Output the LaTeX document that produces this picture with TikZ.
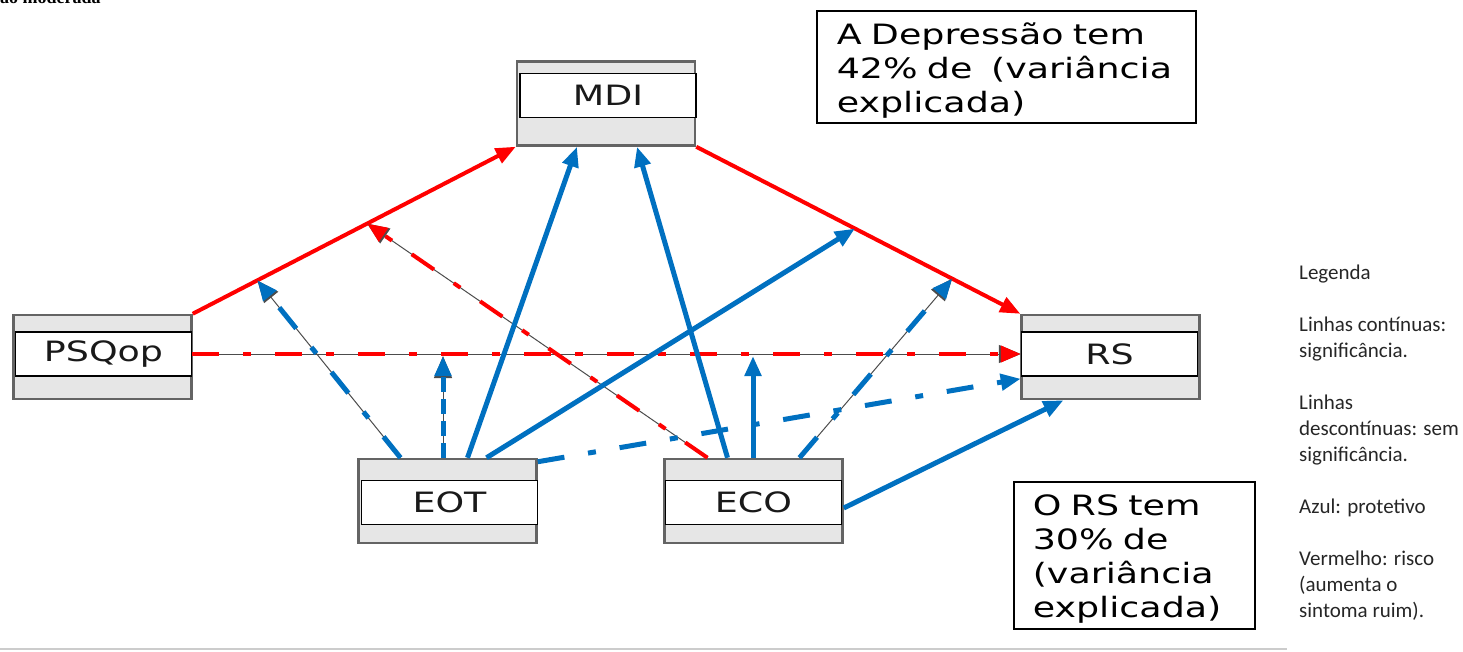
\documentclass[tikz,border=0pt]{standalone}
\usepackage{fontspec}
\setmainfont{Carlito}
\newfontfamily\boxfont[FakeStretch=1.3]{DejaVu Sans}
\newfontfamily\capfont{Liberation Serif}
\usetikzlibrary{arrows.meta,calc}
\definecolor{azul}{RGB}{0,112,192}
\definecolor{verm}{RGB}{255,0,0}
\definecolor{cinza}{RGB}{230,230,230}
\definecolor{borda}{RGB}{100,100,100}

\begin{document}
\begin{tikzpicture}[x=1pt, y=-1pt,
  varbox/.style={draw=borda, line width=2.5pt, fill=cinza, minimum width=178pt, minimum height=84pt, inner sep=0pt},
  varlabel/.style={draw=black, line width=1.5pt, fill=white, minimum width=176pt, minimum height=44pt, inner sep=0pt, text=black!90, font=\boxfont\fontsize{28}{34}\selectfont},
  notebox/.style={draw=black, line width=1.5pt, align=left, inner ysep=0pt, font=\boxfont\fontsize{28}{34}\selectfont},
  headtip/.style={-{Triangle[length=20pt,width=16pt]}},
  sigred/.style={headtip, draw=verm, line width=4pt},
  sigblue/.style={headtip, draw=azul, line width=5pt},
  guide/.style={-{Triangle[length=22pt,width=18pt]}, draw=black!70, line width=1pt},
  nsred/.style={headtip, draw=verm, line width=4pt, dash pattern=on 27pt off 24pt on 8pt off 24pt},
  nsblue/.style={headtip, draw=azul, line width=5pt, dash pattern=on 27pt off 24pt on 8pt off 24pt},
  nsbluedash/.style={headtip, draw=azul, line width=5pt, dash pattern=on 15pt off 7pt}]

\useasboundingbox (0,0) rectangle (1463,651);

% cut caption at the top
\node[anchor=base west, inner sep=0pt, font=\capfont\bfseries\fontsize{18}{20}\selectfont] (topcap) at (0,3) {ão moderada};

% variables
\foreach \nm/\x/\y/\dx/\dy/\txt in {mdi/606/103.5/2/-8/MDI, psq/102.5/357/1/-3/PSQop, eot/447.5/501/2/1.5/EOT, eco/753.5/501/0/1.5/ECO, rs/1110.5/357/-1/-3/RS} {
  \node[varbox] (\nm) at (\x,\y) {};
  \node[varlabel] (\nm-l) at (\x+\dx,\y+\dy) {\txt};
}

% explained variance
\node[notebox, anchor=north west, text width=339pt, inner xsep=20pt, minimum height=112pt] (dep) at (816,10)
  {\rule{0pt}{30pt}A Depressão tem\\42\%~de~~(variância\\explicada)};
\node[notebox, anchor=north west, text width=203pt, inner xsep=19pt, minimum height=147pt] (rsvar) at (1013,481)
  {\rule{0pt}{29pt}O RS tem\\30\% de\\(variância\\explicada)};

% legend
\node[anchor=north west, align=left, inner sep=0pt, text=black!85, font=\fontsize{21}{26}\selectfont] (leg) at (1299,265)
  {Legenda\\[26pt]Linhas contínuas:\\significância.\\[26pt]Linhas\\descontínuas: sem\\significância.\\[26pt]Azul: protetivo\\[26pt]Vermelho: risco\\(aumenta o\\sintoma ruim).};

% main paths
\draw[sigred] (psq.north east) -- (mdi.south west);
\draw[sigred] (mdi.south east) -- (rs.north west);

% points on the paths (moderation)
\coordinate (m1) at ($(psq.north east)!0.2!(mdi.south west)$);
\coordinate (m2) at ($(psq.north east)!0.54!(mdi.south west)$);
\coordinate (m3) at ($(mdi.south east)!0.49!(rs.north west)$);
\coordinate (m4) at ($(mdi.south east)!0.79!(rs.north west)$);
\coordinate (m5) at (443,356);
\coordinate (m6) at (753,356);

% non significant
\draw[guide] (psq-l.east) -- (rs-l.west);
\draw[nsred] (psq-l.east) -- (rs-l.west);
\draw[guide] ([xshift=-47pt]eot.north) -- (m1);
\draw[nsblue] ([xshift=-47pt]eot.north) -- (m1);
\draw[guide] (m5 |- eot.north) -- (m5);
\draw[nsbluedash] (m5 |- eot.north) -- (m5);
\draw[guide] ([xshift=-46pt]eco.north) -- (m2);
\draw[nsred] ([xshift=-46pt]eco.north) -- (m2);
\draw[guide] ([xshift=46pt]eco.north) -- (m4);
\draw[nsblue] ([xshift=46pt]eco.north) -- (m4);
\draw[nsblue] ([yshift=-4pt]eot.north east) -- ([yshift=-2pt]rs-l.south west);

% significant, protective
\draw[sigblue] ([xshift=20pt]eot.north) -- ([xshift=-29pt]mdi.south);
\draw[sigblue] ([xshift=39pt]eot.north) -- (m3);
\draw[sigblue] ([xshift=-26pt]eco.north) -- ([xshift=31pt]mdi.south);
\draw[sigblue] (m6 |- eco.north) -- (m6);
\draw[sigblue] ([yshift=-7pt]eco.east) -- ([xshift=-47pt]rs.south);

% rule at the bottom
\draw[black!20, line width=2pt] (0,649) -- (1287,649);

\end{tikzpicture}
\end{document}
